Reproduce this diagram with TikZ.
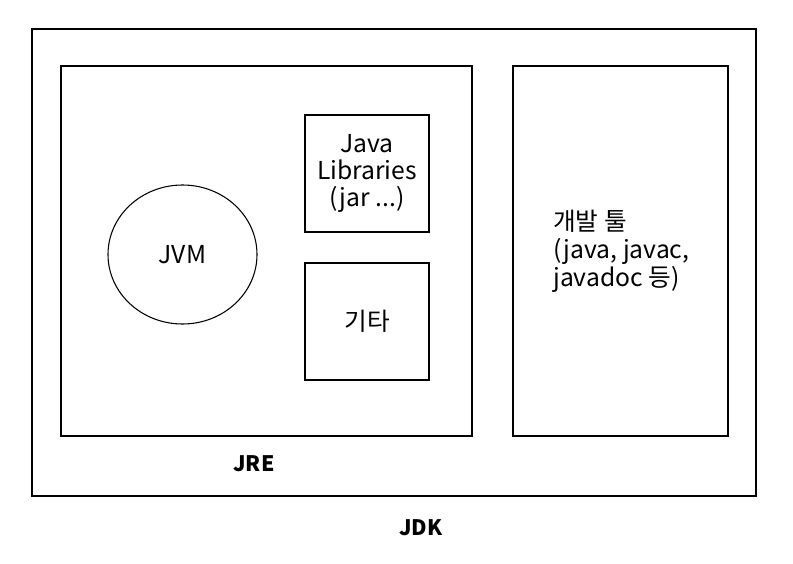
\documentclass[tikz,border=0pt]{standalone}
\usepackage{fontspec}
\setmainfont{Noto Sans CJK KR}
\usetikzlibrary{shapes.geometric}
\begin{document}
\begin{tikzpicture}[x=0.75pt,y=-0.75pt,
  box/.style={draw=black,line width=0.8pt},
  txt/.style={font=\fontsize{18.5pt}{20.5pt}\selectfont,align=center,inner sep=0pt},
  lbl/.style={font=\fontsize{16pt}{18pt}\selectfont\bfseries,inner sep=0pt}]
\useasboundingbox[fill=white] (0,0) rectangle (793,564);
\draw[box] (32,29) rectangle (756,496);
\draw[box] (61,66) rectangle (472,436);
\draw[box] (513,66) rectangle (728,436);
\node[box,rectangle,minimum width=124*0.75pt,minimum height=117*0.75pt,inner sep=0pt] (lib) at (367,173.5) {};
\node[box,rectangle,minimum width=124*0.75pt,minimum height=117*0.75pt,inner sep=0pt] (etc) at (367,321.5) {};
\node[box,ellipse,minimum width=149*0.75pt,minimum height=139*0.75pt,inner sep=0pt] (jvm) at (182.5,254.5) {};
\node[txt] (jvmt) at (jvm.center) {JVM};
\node[txt] (libt) at (lib.center) {Java\\Libraries\\(jar ...)};
\node[txt] (etct) at (etc.center) {기타};
\node[txt,align=left,anchor=west,font=\fontsize{18.5pt}{21pt}\selectfont] (dev) at (553,251) {개발 툴\\(java, javac,\\javadoc 등)};
\node[lbl] (jre) at (254,463.5) {JRE};
\node[lbl] (jdk) at (421,528) {JDK};
\end{tikzpicture}
\end{document}
